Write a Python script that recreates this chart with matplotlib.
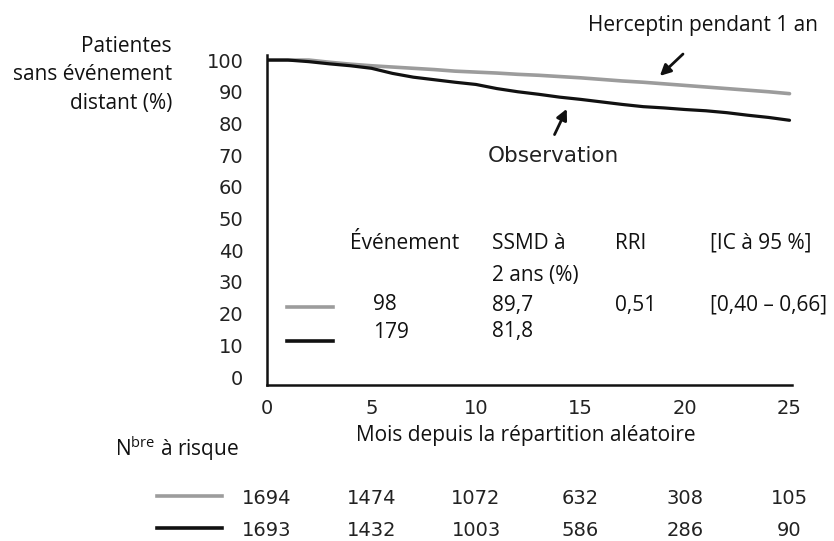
import matplotlib
matplotlib.use("Agg")
import matplotlib.pyplot as plt
from matplotlib.lines import Line2D

# ---- data ----
months = list(range(0, 26))
herceptin = [100, 100, 100, 99.3, 98.7, 98.2, 97.8, 97.4, 97.0, 96.5, 96.2, 95.9, 95.5,
             95.2, 94.8, 94.4, 93.9, 93.4, 93.0, 92.5, 92.0, 91.5, 91.0, 90.5, 90.0, 89.4]
observation = [100, 100, 99.5, 98.8, 98.2, 97.4, 95.8, 94.6, 93.8, 93.0, 92.3, 91.0, 90.0,
               89.2, 88.3, 87.6, 86.8, 86.0, 85.3, 84.9, 84.4, 84.0, 83.4, 82.6, 81.9, 81.0]
x_ticks = [0, 5, 10, 15, 20, 25]
y_ticks = [0, 10, 20, 30, 40, 50, 60, 70, 80, 90, 100]
risk_herceptin = [1694, 1474, 1072, 632, 308, 105]
risk_observation = [1693, 1432, 1003, 586, 286, 90]
table_header = ["Événement", "SSMD à\n2 ans (%)", "RRI", "[IC à 95 %]"]
table_row_herceptin = ["98", "89,7", "0,51", "[0,40 – 0,66]"]
table_row_observation = ["179", "81,8", "", ""]

GRAY = "#9c9c9c"
BLACK = "#111111"
W, H = 834, 541
TXT = "Open Sans"
NUM = "DejaVu Sans"
FS = 15

fig = plt.figure(figsize=(W / 100, H / 100), dpi=100)

def fx(px):
    return px / W

def fy(py):
    return 1 - py / H

ax = fig.add_axes([fx(267), fy(385), fx(791.6) - fx(267), fy(55.3) - fy(385)])
ax.set_xlim(0, 25.1)
ax.set_ylim(-2.5, 101.5)

ax.plot(months, herceptin, color=GRAY, lw=2.6, solid_capstyle="round", solid_joinstyle="round")
ax.plot(months, observation, color=BLACK, lw=2.3, solid_capstyle="round", solid_joinstyle="round")

for s in ["top", "right"]:
    ax.spines[s].set_visible(False)
for s in ["left", "bottom"]:
    ax.spines[s].set_linewidth(1.8)
    ax.spines[s].set_color(BLACK)
ax.set_xticks(x_ticks)
ax.set_yticks(y_ticks)
ax.tick_params(axis="both", length=0, labelsize=14, colors="#222222")
ax.tick_params(axis="y", pad=17)
ax.tick_params(axis="x", pad=10)
for lab in ax.get_xticklabels() + ax.get_yticklabels():
    lab.set_family(NUM)

# arrows
ax.annotate("", xy=(18.7, 94.4), xytext=(20.0, 102.5),
            arrowprops=dict(arrowstyle="-|>", color=BLACK, lw=2.0, mutation_scale=16),
            annotation_clip=False)
ax.annotate("", xy=(14.4, 85.4), xytext=(13.7, 75.7),
            arrowprops=dict(arrowstyle="-|>", color=BLACK, lw=2.0, mutation_scale=16))

fig.text(fx(818), fy(25), "Herceptin pendant 1 an", ha="right", va="center",
         fontsize=FS, family=TXT, color="#111111")
fig.text(fx(553), fy(156), "Observation", ha="center", va="center",
         fontsize=15.5, family=NUM, color="#222222")

# y label
fig.text(fx(172), fy(75), "Patientes\nsans événement\ndistant (%)", ha="right", va="center",
         fontsize=FS, family=TXT, linespacing=1.5, color="#111111")

# x label
fig.text(fx(526), fy(436), "Mois depuis la répartition aléatoire", ha="center", va="center",
         fontsize=FS, family=TXT, color="#111111")

# table in plot
col_x = [350, 492, 615, 710]
for cx, t in zip(col_x, table_header):
    fig.text(fx(cx), fy(233), t, ha="left", va="top", fontsize=FS, family=TXT,
             linespacing=1.7, color="#111111")
row_cx = [373, 492, 615, 710]
for cx, t in zip(row_cx, table_row_herceptin):
    fig.text(fx(cx), fy(305), t, ha="left", va="center", fontsize=FS, family=TXT, color="#111111")
for cx, t in zip(row_cx, table_row_observation):
    fig.text(fx(cx), fy(332), t, ha="left", va="center", fontsize=FS, family=TXT, color="#111111")
fig.add_artist(Line2D([fx(287), fx(333)], [fy(307), fy(307)], color=GRAY, lw=2.6))
fig.add_artist(Line2D([fx(287), fx(333)], [fy(341), fy(341)], color=BLACK, lw=2.6))

# number at risk
fig.text(fx(115), fy(449), "N$^{\\mathregular{bre}}$ à risque", ha="left", va="center",
         fontsize=FS, family=TXT, color="#111111")
fig.add_artist(Line2D([fx(157), fx(222)], [fy(496), fy(496)], color=GRAY, lw=2.6))
fig.add_artist(Line2D([fx(157), fx(222)], [fy(528), fy(528)], color=BLACK, lw=2.6))
for xv, a, b in zip(x_ticks, risk_herceptin, risk_observation):
    xd = ax.transData.transform((xv, 0))[0]
    xf = fig.transFigure.inverted().transform((xd, 0))[0]
    fig.text(xf, fy(498), str(a), ha="center", va="center", fontsize=14, family=NUM, color="#222222")
    fig.text(xf, fy(530), str(b), ha="center", va="center", fontsize=14, family=NUM, color="#222222")

fig.savefig("out.png", dpi=100)
